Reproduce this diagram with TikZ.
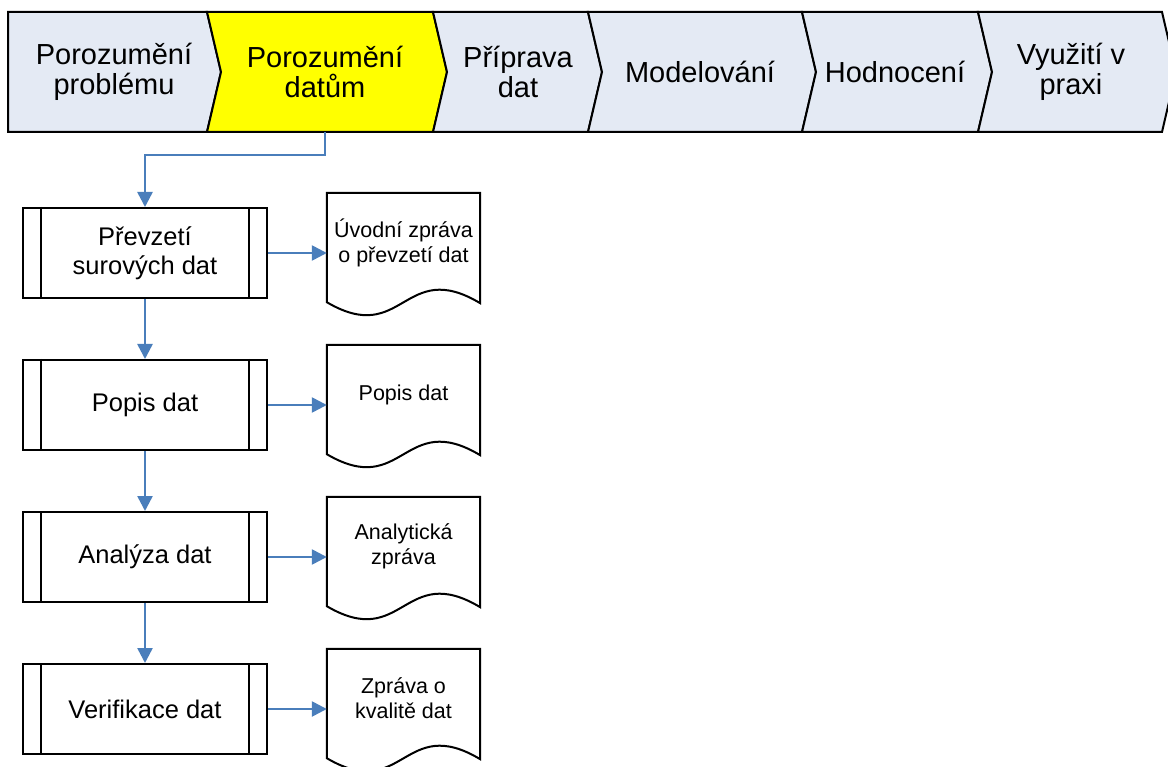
\documentclass[tikz,border=0pt]{standalone}
\usepackage{fontspec}
\setmainfont{Liberation Sans}
\usetikzlibrary{arrows.meta,calc}
\definecolor{phasefill}{HTML}{E4EAF4}
\definecolor{phaseon}{HTML}{FFFF00}
\definecolor{flowblue}{HTML}{4A7EBB}
\tikzset{
  phase/.style={draw=black,line width=2pt,line join=miter},
  phasetext/.style={align=center,font=\fontsize{29}{30}\selectfont,inner sep=0pt,minimum height=120pt},
  procbox/.style={draw=black,line width=2pt,minimum width=244pt,minimum height=90pt,align=center,
    font=\fontsize{25.5}{29}\selectfont,inner sep=0pt},
  docframe/.style={minimum width=153pt,minimum height=109pt,inner sep=0pt},
  docline/.style={draw=black,line width=2pt,fill=white},
  doctext/.style={align=center,font=\fontsize{21.5}{25}\selectfont,inner sep=0pt},
  flow/.style={draw=flowblue,line width=2.5pt,-{Triangle[length=15pt,width=15pt]}}
}
% one phase of the process bar: left edge, right edge, fill
\newcommand\phaseshape[3]{%
  \path[phase,fill=#3] (#1,12) -- (#2,12) -- (#2+14,72) -- (#2,132) -- (#1,132) -- (#1+14,72) -- cycle;}
\begin{document}
\begin{tikzpicture}[x=1pt,y=-1pt]
\useasboundingbox (0,0) rectangle (1168,767);
\clip (0,0) rectangle (1168,767);

% phase bar
\path[phase,fill=phasefill] (8,12) -- (207,12) -- (221,72) -- (207,132) -- (8,132) -- cycle;
\phaseshape{207}{433}{phaseon}
\phaseshape{433}{588}{phasefill}
\phaseshape{588}{802}{phasefill}
\phaseshape{802}{978}{phasefill}
\phaseshape{978}{1162}{phasefill}

\node[phasetext] (c1) at (114,72) {Porozumění\\problému};
\node[phasetext] (c2) at (325,72) {Porozumění\\datům};
\node[phasetext] (c3) at (518,72) {Příprava\\dat};
\node[phasetext] (c4) at (700,72) {Modelování};
\node[phasetext] (c5) at (895,72) {Hodnocení};
\node[phasetext] (c6) at (1071,72) {Využití v\\praxi};

% process steps
\foreach \n/\y/\t in {1/253/{Převzetí\\surových dat},2/405/{Popis dat},3/557/{Analýza dat},4/709/{Verifikace dat}}{
  \node[procbox] (b\n) at (145,\y) {\t};
  \draw[line width=2pt] ($(b\n.north west)+(19,0)$) -- ($(b\n.south west)+(19,0)$);
  \draw[line width=2pt] ($(b\n.north east)+(-19,0)$) -- ($(b\n.south east)+(-19,0)$);
}

% output documents
\foreach \n/\y/\t in {1/193/{Úvodní zpráva\\o převzetí dat},2/345/{Popis dat},3/497/{Analytická\\zpráva},4/649/{Zpráva o\\kvalitě dat}}{
  \node[docframe] (d\n) at (403.5,\y+54.5) {};
  \draw[docline] (d\n.north west) -- (d\n.north east) -- ($(d\n.south east)+(0,1)$)
    .. controls ($(d\n.south)+(0,-45)$) and ($(d\n.south)+(0,45)$) .. (d\n.south west) -- cycle;
  \node[doctext] (t\n) at ($(d\n.center)+(0,-5)$) {\t};
}

% connectors
\draw[flow] (c2.south) -- ++(0,23) -| (b1.north);
\draw[flow] (b1.south) -- (b2.north);
\draw[flow] (b2.south) -- (b3.north);
\draw[flow] (b3.south) -- (b4.north);
\foreach \n in {1,2,3,4}{
  \draw[flow] (b\n.east) -- (b\n.east -| d\n.west);
}
\end{tikzpicture}
\end{document}
